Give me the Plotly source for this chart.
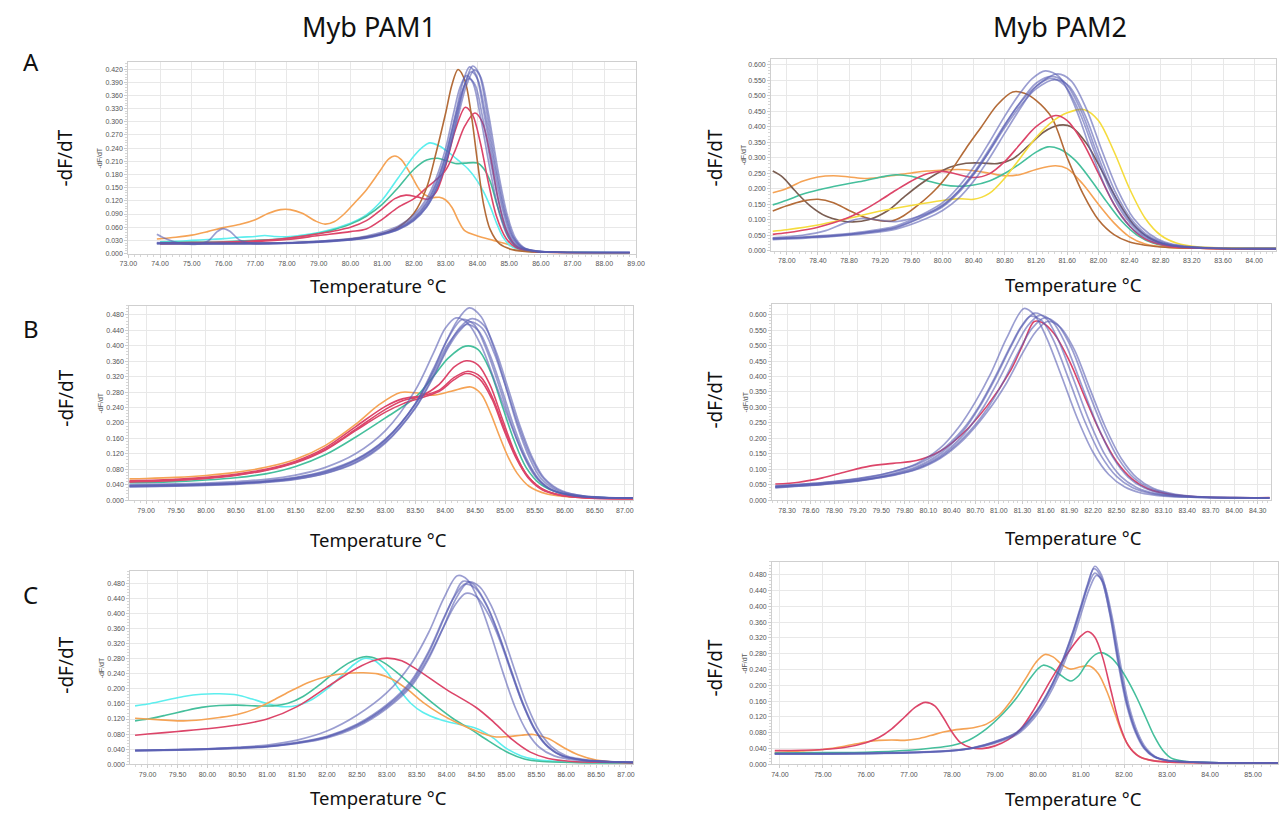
import plotly.graph_objects as go

# ---------------- DATA ----------------
# Panel A, Myb PAM1
A1_ORANGE = [(73.9,0.033),(74.5,0.037),(75.0,0.042),(75.5,0.050),(76.0,0.059),(76.5,0.066),(77.0,0.077),(77.4,0.091),(77.8,0.100),(78.1,0.100),(78.5,0.091),(78.9,0.074),(79.2,0.067),(79.5,0.073),(79.8,0.090),(80.1,0.113),(80.5,0.145),(80.9,0.185),(81.2,0.215),(81.4,0.222),(81.6,0.214),(81.9,0.180),(82.2,0.143),(82.5,0.128),(82.8,0.128),(83.0,0.122),(83.2,0.105),(83.4,0.075),(83.6,0.052),(84.0,0.040),(84.5,0.030),(85.0,0.020),(85.3,0.010),(85.6,0.004),(86.0,0.003),(88.8,0.002)]
A1_CYAN = [(74.0,0.027),(74.5,0.028),(75.0,0.030),(75.5,0.032),(76.0,0.034),(76.5,0.037),(77.0,0.039),(77.3,0.041),(77.6,0.039),(78.0,0.038),(78.5,0.042),(79.0,0.048),(79.5,0.057),(80.0,0.069),(80.5,0.088),(81.0,0.122),(81.5,0.172),(82.0,0.222),(82.3,0.244),(82.5,0.252),(82.8,0.245),(83.1,0.230),(83.4,0.212),(83.7,0.193),(84.0,0.165),(84.2,0.140),(84.4,0.108),(84.6,0.070),(84.8,0.038),(85.0,0.020),(85.3,0.009),(85.7,0.004),(86.5,0.003),(88.8,0.002)]
A1_TEAL = [(74.0,0.025),(75.0,0.026),(76.0,0.027),(77.0,0.030),(78.0,0.035),(79.0,0.046),(79.5,0.055),(80.0,0.067),(80.5,0.085),(81.0,0.112),(81.5,0.150),(82.0,0.192),(82.4,0.213),(82.75,0.217),(83.0,0.212),(83.3,0.205),(83.6,0.206),(84.0,0.206),(84.2,0.193),(84.4,0.165),(84.6,0.115),(84.8,0.070),(85.0,0.035),(85.3,0.013),(85.7,0.005),(86.5,0.003),(88.8,0.002)]
A1_RED_1 = [(74.0,0.024),(75.0,0.025),(76.0,0.026),(77.0,0.029),(78.0,0.035),(79.0,0.045),(80.0,0.060),(80.5,0.075),(81.0,0.102),(81.4,0.125),(81.75,0.133),(82.1,0.129),(82.45,0.124),(82.7,0.140),(83.0,0.200),(83.3,0.280),(83.62,0.333),(83.85,0.315),(84.1,0.250),(84.35,0.160),(84.6,0.085),(84.9,0.035),(85.2,0.014),(85.6,0.006),(86.2,0.003),(88.8,0.002)]
A1_RED_2 = [(74.0,0.022),(75.0,0.023),(76.0,0.024),(77.0,0.027),(78.0,0.032),(79.0,0.041),(80.0,0.050),(80.5,0.056),(81.0,0.078),(81.5,0.105),(82.0,0.125),(82.4,0.150),(82.7,0.168),(83.0,0.190),(83.3,0.235),(83.6,0.290),(83.92,0.320),(84.15,0.300),(84.4,0.225),(84.65,0.125),(84.9,0.055),(85.2,0.018),(85.6,0.006),(86.2,0.003),(88.8,0.002)]
A1_BROWN = [(74.0,0.023),(76.0,0.023),(78.0,0.024),(79.0,0.027),(80.0,0.033),(80.5,0.038),(81.0,0.045),(81.5,0.060),(82.0,0.092),(82.4,0.150),(82.7,0.230),(83.0,0.320),(83.2,0.385),(83.39,0.419),(83.6,0.395),(83.8,0.320),(84.0,0.210),(84.2,0.110),(84.4,0.055),(84.7,0.022),(85.1,0.009),(85.8,0.004),(88.8,0.002)]
A1_BLUE_1 = [(73.9,0.024),(75.0,0.023),(76.0,0.023),(77.0,0.023),(78.0,0.024),(79.0,0.027),(80.0,0.032),(80.5,0.037),(81.0,0.045),(81.5,0.057),(82.0,0.080),(82.4,0.114),(82.7,0.158),(83.0,0.222),(83.3,0.315),(83.55,0.392),(83.75,0.425),(83.95,0.408),(84.2,0.322),(84.5,0.198),(84.8,0.098),(85.05,0.042),(85.35,0.015),(85.8,0.006),(86.5,0.003),(88.8,0.002)]
A1_BLUE_2 = [(73.9,0.023),(75.0,0.022),(76.0,0.022),(77.0,0.022),(78.0,0.023),(79.0,0.026),(80.0,0.031),(80.5,0.035),(81.0,0.043),(81.5,0.054),(82.0,0.075),(82.4,0.106),(82.7,0.145),(83.0,0.205),(83.3,0.292),(83.6,0.385),(83.85,0.427),(84.05,0.410),(84.3,0.320),(84.6,0.190),(84.9,0.088),(85.15,0.036),(85.45,0.013),(85.9,0.005),(86.5,0.003),(88.8,0.002)]
A1_BLUE_3 = [(73.9,0.044),(74.2,0.033),(74.6,0.024),(75.1,0.021),(75.5,0.028),(75.8,0.050),(76.0,0.057),(76.2,0.051),(76.5,0.031),(76.9,0.023),(78.0,0.024),(79.0,0.028),(80.0,0.034),(80.5,0.040),(81.0,0.049),(81.5,0.062),(82.0,0.088),(82.4,0.125),(82.7,0.172),(83.0,0.240),(83.25,0.320),(83.45,0.378),(83.65,0.405),(83.85,0.390),(84.1,0.310),(84.4,0.190),(84.7,0.090),(84.95,0.040),(85.25,0.014),(85.7,0.006),(86.5,0.003),(88.8,0.002)]
A1_BLUE_4 = [(73.9,0.025),(75.0,0.024),(76.0,0.024),(77.0,0.024),(78.0,0.025),(79.0,0.028),(80.0,0.033),(80.5,0.038),(81.0,0.046),(81.5,0.059),(82.0,0.083),(82.4,0.118),(82.7,0.162),(83.0,0.225),(83.3,0.310),(83.52,0.370),(83.72,0.398),(83.92,0.385),(84.15,0.315),(84.45,0.195),(84.75,0.095),(85.0,0.042),(85.3,0.015),(85.75,0.006),(86.5,0.003),(88.8,0.002)]
A1_BLUE_5 = [(73.9,0.022),(75.0,0.022),(76.0,0.022),(77.0,0.023),(78.0,0.024),(79.0,0.026),(80.0,0.031),(80.5,0.036),(81.0,0.044),(81.5,0.056),(82.0,0.078),(82.4,0.110),(82.7,0.152),(83.0,0.214),(83.3,0.302),(83.58,0.380),(83.8,0.414),(84.0,0.398),(84.25,0.318),(84.55,0.196),(84.85,0.094),(85.1,0.040),(85.4,0.014),(85.85,0.005),(86.5,0.003),(88.8,0.002)]
A1_BLUE_6 = [(73.9,0.023),(75.0,0.023),(76.0,0.023),(77.0,0.023),(78.0,0.024),(79.0,0.027),(80.0,0.032),(80.5,0.036),(81.0,0.044),(81.5,0.055),(82.0,0.076),(82.4,0.106),(82.7,0.146),(83.0,0.205),(83.35,0.300),(83.65,0.382),(83.9,0.418),(84.1,0.402),(84.35,0.318),(84.65,0.188),(84.95,0.085),(85.2,0.035),(85.5,0.012),(85.95,0.005),(86.5,0.003),(88.8,0.002)]

# Panel A, Myb PAM2
A2_ORANGE = [(77.82,0.187),(78.0,0.201),(78.2,0.224),(78.4,0.238),(78.6,0.242),(78.8,0.238),(79.0,0.233),(79.2,0.237),(79.4,0.244),(79.6,0.251),(79.8,0.257),(80.0,0.260),(80.2,0.262),(80.4,0.258),(80.6,0.250),(80.8,0.242),(81.0,0.246),(81.2,0.262),(81.45,0.274),(81.6,0.265),(81.8,0.215),(82.0,0.150),(82.2,0.090),(82.4,0.045),(82.6,0.022),(82.9,0.011),(83.3,0.008),(84.28,0.006)]
A2_TEAL = [(77.82,0.148),(78.0,0.163),(78.2,0.182),(78.4,0.196),(78.6,0.207),(78.8,0.217),(79.0,0.226),(79.2,0.237),(79.4,0.245),(79.6,0.240),(79.8,0.226),(80.0,0.213),(80.2,0.208),(80.4,0.212),(80.6,0.225),(80.8,0.250),(81.0,0.282),(81.2,0.318),(81.35,0.335),(81.5,0.328),(81.7,0.292),(81.9,0.230),(82.1,0.160),(82.3,0.095),(82.5,0.050),(82.7,0.025),(83.0,0.012),(83.5,0.008),(84.28,0.007)]
A2_RED = [(77.82,0.053),(78.0,0.058),(78.2,0.066),(78.4,0.076),(78.6,0.090),(78.8,0.108),(79.0,0.133),(79.2,0.163),(79.4,0.195),(79.6,0.225),(79.8,0.248),(80.0,0.256),(80.2,0.246),(80.4,0.236),(80.6,0.248),(80.8,0.288),(81.0,0.345),(81.2,0.400),(81.45,0.436),(81.6,0.420),(81.8,0.350),(82.0,0.250),(82.2,0.150),(82.4,0.080),(82.6,0.038),(82.9,0.015),(83.3,0.008),(84.28,0.006)]
A2_DARK = [(77.82,0.257),(77.95,0.237),(78.1,0.195),(78.3,0.145),(78.5,0.112),(78.7,0.097),(78.85,0.093),(79.05,0.100),(79.3,0.130),(79.5,0.172),(79.7,0.212),(79.9,0.245),(80.1,0.270),(80.3,0.282),(80.5,0.283),(80.7,0.281),(80.9,0.296),(81.1,0.338),(81.3,0.383),(81.5,0.405),(81.65,0.400),(81.85,0.345),(82.05,0.255),(82.25,0.160),(82.45,0.085),(82.65,0.042),(82.9,0.018),(83.3,0.009),(84.28,0.007)]
A2_BROWN = [(77.82,0.128),(78.0,0.145),(78.2,0.160),(78.4,0.166),(78.6,0.155),(78.8,0.130),(79.0,0.108),(79.2,0.097),(79.35,0.096),(79.5,0.113),(79.7,0.150),(79.9,0.195),(80.1,0.255),(80.3,0.330),(80.5,0.400),(80.7,0.470),(80.9,0.512),(81.05,0.508),(81.2,0.485),(81.4,0.430),(81.6,0.300),(81.8,0.185),(82.0,0.100),(82.2,0.052),(82.4,0.028),(82.6,0.018),(82.9,0.011),(83.3,0.008),(84.28,0.007)]
A2_YELLOW = [(77.82,0.063),(78.0,0.068),(78.4,0.083),(78.8,0.105),(79.2,0.128),(79.6,0.146),(80.0,0.162),(80.2,0.168),(80.4,0.166),(80.6,0.185),(80.8,0.235),(81.0,0.300),(81.2,0.365),(81.4,0.415),(81.6,0.445),(81.82,0.455),(82.0,0.420),(82.2,0.320),(82.4,0.200),(82.6,0.105),(82.8,0.050),(83.0,0.025),(83.3,0.012),(83.8,0.009),(84.28,0.008)]
A2_BLUE_1 = [(77.82,0.040),(78.2,0.044),(78.6,0.051),(79.0,0.062),(79.4,0.080),(79.8,0.125),(80.0,0.155),(80.2,0.205),(80.4,0.270),(80.6,0.350),(80.8,0.435),(81.0,0.510),(81.15,0.555),(81.32,0.580),(81.5,0.560),(81.7,0.465),(81.9,0.325),(82.1,0.200),(82.3,0.110),(82.5,0.058),(82.7,0.030),(82.95,0.016),(83.4,0.009),(84.28,0.007)]
A2_BLUE_2 = [(77.82,0.036),(78.2,0.040),(78.6,0.046),(79.0,0.055),(79.4,0.070),(79.8,0.105),(80.0,0.130),(80.2,0.168),(80.4,0.225),(80.6,0.298),(80.8,0.380),(81.0,0.460),(81.2,0.530),(81.47,0.570),(81.65,0.548),(81.85,0.455),(82.05,0.320),(82.25,0.195),(82.45,0.105),(82.65,0.055),(82.85,0.028),(83.1,0.015),(83.5,0.009),(84.28,0.007)]
A2_BLUE_3 = [(77.82,0.038),(78.2,0.042),(78.6,0.048),(79.0,0.058),(79.4,0.074),(79.8,0.115),(80.0,0.142),(80.2,0.186),(80.4,0.246),(80.6,0.322),(80.8,0.405),(81.0,0.480),(81.2,0.540),(81.4,0.562),(81.58,0.540),(81.78,0.450),(81.98,0.315),(82.18,0.192),(82.38,0.104),(82.58,0.054),(82.78,0.028),(83.0,0.015),(83.4,0.009),(84.28,0.007)]
A2_BLUE_4 = [(77.82,0.042),(78.2,0.050),(78.5,0.065),(78.75,0.090),(78.95,0.104),(79.15,0.100),(79.4,0.094),(79.8,0.120),(80.0,0.148),(80.2,0.192),(80.4,0.252),(80.6,0.328),(80.8,0.408),(81.0,0.478),(81.2,0.530),(81.38,0.556),(81.56,0.535),(81.76,0.445),(81.96,0.312),(82.16,0.190),(82.36,0.103),(82.56,0.053),(82.76,0.028),(83.0,0.015),(83.4,0.009),(84.28,0.007)]
A2_BLUE_5 = [(77.82,0.039),(78.2,0.043),(78.6,0.049),(79.0,0.059),(79.4,0.076),(79.8,0.118),(80.0,0.145),(80.2,0.190),(80.4,0.248),(80.6,0.320),(80.8,0.398),(81.0,0.468),(81.2,0.522),(81.44,0.552),(81.62,0.532),(81.82,0.442),(82.02,0.310),(82.22,0.188),(82.42,0.102),(82.62,0.052),(82.82,0.027),(83.05,0.015),(83.4,0.009),(84.28,0.007)]

# Panel B, Myb PAM1
B1_ORANGE = [(78.72,0.055),(79.0,0.056),(79.5,0.059),(80.0,0.064),(80.5,0.072),(81.0,0.085),(81.5,0.106),(82.0,0.142),(82.5,0.196),(82.9,0.248),(83.25,0.279),(83.5,0.278),(83.8,0.272),(84.1,0.282),(84.43,0.293),(84.6,0.275),(84.75,0.228),(84.9,0.168),(85.05,0.112),(85.2,0.070),(85.4,0.036),(85.7,0.016),(86.1,0.008),(86.7,0.005),(87.14,0.004)]
B1_TEAL = [(78.72,0.045),(79.5,0.048),(80.0,0.052),(80.5,0.058),(81.0,0.068),(81.5,0.087),(82.0,0.118),(82.5,0.163),(83.0,0.213),(83.5,0.266),(83.8,0.320),(84.05,0.368),(84.34,0.399),(84.55,0.390),(84.75,0.335),(84.95,0.245),(85.15,0.155),(85.35,0.085),(85.6,0.040),(85.9,0.019),(86.3,0.009),(87.14,0.005)]
B1_RED_1 = [(78.72,0.048),(79.5,0.052),(80.0,0.057),(80.5,0.065),(81.0,0.078),(81.5,0.098),(82.0,0.132),(82.5,0.183),(83.0,0.235),(83.3,0.258),(83.6,0.270),(83.9,0.300),(84.15,0.345),(84.35,0.361),(84.55,0.350),(84.75,0.298),(84.95,0.212),(85.15,0.128),(85.35,0.068),(85.6,0.031),(85.9,0.014),(86.3,0.007),(87.14,0.004)]
B1_RED_2 = [(78.72,0.050),(79.5,0.054),(80.0,0.059),(80.5,0.067),(81.0,0.080),(81.5,0.101),(82.0,0.136),(82.5,0.190),(83.0,0.243),(83.3,0.263),(83.6,0.270),(83.9,0.285),(84.15,0.318),(84.38,0.334),(84.6,0.318),(84.8,0.262),(85.0,0.180),(85.2,0.108),(85.4,0.058),(85.65,0.026),(85.95,0.012),(86.4,0.006),(87.14,0.004)]
B1_RED_3 = [(78.72,0.047),(79.5,0.051),(80.0,0.056),(80.5,0.064),(81.0,0.077),(81.5,0.097),(82.0,0.130),(82.5,0.180),(83.0,0.228),(83.3,0.250),(83.6,0.265),(83.9,0.282),(84.15,0.312),(84.35,0.328),(84.57,0.314),(84.78,0.262),(84.98,0.182),(85.18,0.110),(85.38,0.059),(85.62,0.027),(85.92,0.013),(86.35,0.006),(87.14,0.004)]
B1_BLUE_1 = [(78.72,0.038),(79.5,0.040),(80.0,0.042),(80.5,0.045),(81.0,0.050),(81.5,0.059),(82.0,0.076),(82.5,0.105),(83.0,0.158),(83.5,0.250),(83.8,0.335),(84.0,0.405),(84.2,0.465),(84.4,0.498),(84.6,0.475),(84.8,0.400),(85.0,0.300),(85.2,0.195),(85.4,0.112),(85.6,0.056),(85.9,0.022),(86.3,0.010),(87.14,0.005)]
B1_BLUE_2 = [(78.72,0.040),(79.5,0.042),(80.0,0.044),(80.5,0.048),(81.0,0.054),(81.5,0.065),(82.0,0.085),(82.5,0.120),(83.0,0.180),(83.5,0.285),(83.8,0.380),(84.0,0.445),(84.18,0.472),(84.38,0.458),(84.6,0.400),(84.8,0.320),(85.0,0.235),(85.2,0.155),(85.4,0.090),(85.6,0.046),(85.9,0.019),(86.3,0.009),(87.14,0.005)]
B1_BLUE_3 = [(78.72,0.036),(79.5,0.038),(80.0,0.040),(80.5,0.043),(81.0,0.048),(81.5,0.057),(82.0,0.073),(82.5,0.102),(83.0,0.155),(83.5,0.250),(83.8,0.340),(84.05,0.420),(84.28,0.468),(84.48,0.455),(84.7,0.385),(84.9,0.295),(85.1,0.200),(85.3,0.118),(85.5,0.062),(85.75,0.028),(86.1,0.012),(86.6,0.006),(87.14,0.005)]
B1_BLUE_4 = [(78.72,0.034),(79.5,0.036),(80.0,0.038),(80.5,0.041),(81.0,0.046),(81.5,0.054),(82.0,0.069),(82.5,0.096),(83.0,0.148),(83.5,0.238),(83.8,0.318),(84.05,0.395),(84.25,0.440),(84.42,0.462),(84.62,0.445),(84.82,0.380),(85.02,0.290),(85.22,0.195),(85.42,0.115),(85.62,0.060),(85.9,0.025),(86.3,0.011),(87.14,0.005)]
B1_BLUE_5 = [(78.72,0.037),(79.5,0.039),(80.0,0.041),(80.5,0.044),(81.0,0.049),(81.5,0.058),(82.0,0.074),(82.5,0.104),(83.0,0.157),(83.5,0.248),(83.8,0.330),(84.05,0.405),(84.35,0.455),(84.55,0.440),(84.75,0.375),(84.95,0.285),(85.15,0.190),(85.35,0.110),(85.55,0.057),(85.8,0.025),(86.2,0.011),(86.7,0.006),(87.14,0.005)]
B1_BLUE_6 = [(78.72,0.035),(79.5,0.037),(80.0,0.039),(80.5,0.042),(81.0,0.047),(81.5,0.055),(82.0,0.070),(82.5,0.098),(83.0,0.150),(83.5,0.240),(83.8,0.322),(84.05,0.400),(84.25,0.448),(84.45,0.470),(84.65,0.452),(84.85,0.385),(85.05,0.290),(85.25,0.192),(85.45,0.112),(85.65,0.058),(85.95,0.024),(86.35,0.010),(87.14,0.005)]

# Panel B, Myb PAM2
B2_RED = [(78.15,0.052),(78.45,0.058),(78.75,0.072),(79.05,0.092),(79.35,0.110),(79.65,0.119),(79.95,0.128),(80.25,0.158),(80.55,0.218),(80.85,0.305),(81.15,0.420),(81.3,0.500),(81.45,0.578),(81.55,0.575),(81.7,0.540),(81.9,0.450),(82.1,0.330),(82.3,0.215),(82.5,0.125),(82.7,0.068),(82.9,0.037),(83.2,0.018),(83.6,0.010),(84.45,0.008)]
B2_BLUE_1 = [(78.15,0.045),(78.45,0.050),(78.75,0.056),(79.05,0.064),(79.35,0.075),(79.65,0.092),(79.95,0.118),(80.25,0.168),(80.5,0.240),(80.7,0.318),(80.9,0.412),(81.1,0.525),(81.32,0.620),(81.45,0.600),(81.6,0.530),(81.8,0.400),(82.0,0.265),(82.2,0.155),(82.4,0.083),(82.6,0.043),(82.8,0.024),(83.1,0.013),(83.5,0.009),(84.45,0.007)]
B2_BLUE_2 = [(78.15,0.044),(78.45,0.049),(78.75,0.054),(79.05,0.061),(79.35,0.071),(79.65,0.086),(79.95,0.108),(80.25,0.150),(80.55,0.225),(80.75,0.300),(80.95,0.392),(81.15,0.495),(81.3,0.565),(81.45,0.605),(81.6,0.588),(81.75,0.522),(81.95,0.392),(82.15,0.258),(82.35,0.148),(82.55,0.078),(82.75,0.042),(83.0,0.021),(83.4,0.011),(84.0,0.008),(84.45,0.007)]
B2_BLUE_3 = [(78.15,0.042),(78.45,0.047),(78.75,0.052),(79.05,0.059),(79.35,0.069),(79.65,0.083),(79.95,0.104),(80.25,0.143),(80.55,0.212),(80.8,0.300),(81.0,0.390),(81.2,0.490),(81.37,0.565),(81.52,0.598),(81.68,0.578),(81.85,0.505),(82.05,0.375),(82.25,0.245),(82.45,0.140),(82.65,0.074),(82.85,0.040),(83.1,0.020),(83.5,0.011),(84.0,0.008),(84.45,0.007)]
B2_BLUE_4 = [(78.15,0.041),(78.45,0.046),(78.75,0.051),(79.05,0.058),(79.35,0.068),(79.65,0.081),(79.95,0.101),(80.25,0.138),(80.55,0.202),(80.85,0.295),(81.05,0.380),(81.25,0.480),(81.42,0.555),(81.58,0.590),(81.74,0.570),(81.92,0.495),(82.12,0.365),(82.32,0.238),(82.52,0.136),(82.72,0.072),(82.92,0.039),(83.2,0.019),(83.6,0.010),(84.45,0.007)]
B2_BLUE_5 = [(78.15,0.046),(78.45,0.051),(78.75,0.057),(79.05,0.065),(79.35,0.076),(79.65,0.092),(79.95,0.115),(80.25,0.158),(80.55,0.232),(80.75,0.305),(80.95,0.398),(81.15,0.500),(81.28,0.560),(81.4,0.595),(81.55,0.580),(81.7,0.515),(81.9,0.385),(82.1,0.252),(82.3,0.145),(82.5,0.077),(82.7,0.041),(82.95,0.021),(83.35,0.011),(84.0,0.008),(84.45,0.007)]
B2_BLUE_6 = [(78.15,0.040),(78.45,0.045),(78.75,0.050),(79.05,0.057),(79.35,0.067),(79.65,0.080),(79.95,0.099),(80.25,0.135),(80.55,0.196),(80.85,0.285),(81.1,0.380),(81.3,0.475),(81.47,0.545),(81.62,0.578),(81.78,0.560),(81.96,0.488),(82.16,0.360),(82.36,0.235),(82.56,0.135),(82.76,0.072),(82.96,0.039),(83.25,0.019),(83.65,0.010),(84.45,0.007)]

# Panel C, Myb PAM1
C1_CYAN = [(78.79,0.155),(79.0,0.160),(79.3,0.170),(79.6,0.180),(79.9,0.186),(80.2,0.187),(80.5,0.184),(80.75,0.173),(81.0,0.161),(81.25,0.153),(81.5,0.156),(81.75,0.172),(82.0,0.200),(82.25,0.236),(82.45,0.265),(82.62,0.281),(82.8,0.275),(83.0,0.245),(83.2,0.200),(83.4,0.162),(83.6,0.138),(83.9,0.118),(84.2,0.106),(84.5,0.095),(84.75,0.073),(85.0,0.042),(85.25,0.022),(85.5,0.012),(86.0,0.006),(87.12,0.004)]
C1_TEAL = [(78.79,0.115),(79.0,0.120),(79.3,0.130),(79.6,0.141),(79.9,0.151),(80.2,0.156),(80.5,0.157),(80.8,0.155),(81.1,0.155),(81.35,0.162),(81.6,0.180),(81.85,0.208),(82.1,0.240),(82.35,0.268),(82.6,0.285),(82.75,0.284),(82.95,0.270),(83.2,0.240),(83.5,0.198),(83.8,0.158),(84.1,0.122),(84.4,0.093),(84.7,0.062),(85.0,0.033),(85.3,0.014),(85.6,0.007),(86.2,0.004),(87.12,0.003)]
C1_ORANGE = [(78.79,0.122),(79.0,0.120),(79.3,0.117),(79.6,0.115),(79.9,0.118),(80.2,0.124),(80.5,0.132),(80.8,0.147),(81.1,0.170),(81.4,0.195),(81.7,0.218),(82.0,0.233),(82.3,0.241),(82.6,0.243),(82.85,0.240),(83.1,0.225),(83.35,0.198),(83.6,0.165),(83.9,0.133),(84.2,0.108),(84.5,0.088),(84.8,0.073),(85.0,0.073),(85.25,0.077),(85.45,0.079),(85.7,0.068),(85.95,0.045),(86.2,0.025),(86.5,0.011),(86.9,0.005),(87.12,0.004)]
C1_RED = [(78.79,0.077),(79.0,0.080),(79.5,0.087),(80.0,0.094),(80.5,0.104),(81.0,0.120),(81.5,0.153),(82.0,0.205),(82.5,0.255),(82.8,0.276),(83.0,0.282),(83.25,0.275),(83.5,0.252),(84.0,0.198),(84.5,0.150),(84.8,0.110),(85.1,0.065),(85.4,0.032),(85.7,0.015),(86.1,0.007),(86.6,0.005),(87.12,0.004)]
C1_BLUE_1 = [(78.79,0.037),(79.5,0.039),(80.0,0.041),(80.5,0.045),(81.0,0.051),(81.5,0.064),(82.0,0.088),(82.5,0.130),(83.0,0.190),(83.4,0.265),(83.7,0.350),(83.95,0.440),(84.18,0.501),(84.35,0.490),(84.55,0.430),(84.75,0.340),(84.95,0.240),(85.15,0.150),(85.35,0.085),(85.55,0.045),(85.8,0.022),(86.2,0.010),(86.7,0.006),(87.12,0.005)]
C1_BLUE_2 = [(78.79,0.036),(79.5,0.038),(80.0,0.040),(80.5,0.043),(81.0,0.047),(81.5,0.057),(82.0,0.073),(82.5,0.104),(83.0,0.155),(83.4,0.215),(83.7,0.295),(83.95,0.385),(84.12,0.445),(84.27,0.486),(84.45,0.478),(84.65,0.430),(84.85,0.355),(85.05,0.262),(85.25,0.170),(85.45,0.098),(85.65,0.053),(85.9,0.024),(86.3,0.010),(86.8,0.006),(87.12,0.005)]
C1_BLUE_3 = [(78.79,0.035),(79.5,0.037),(80.0,0.039),(80.5,0.042),(81.0,0.046),(81.5,0.055),(82.0,0.070),(82.5,0.099),(83.0,0.148),(83.4,0.205),(83.7,0.280),(83.95,0.365),(84.15,0.438),(84.36,0.484),(84.55,0.472),(84.75,0.420),(84.95,0.340),(85.15,0.245),(85.35,0.155),(85.55,0.088),(85.75,0.047),(86.0,0.022),(86.4,0.010),(86.9,0.006),(87.12,0.005)]
C1_BLUE_4 = [(78.79,0.036),(79.5,0.038),(80.0,0.040),(80.5,0.043),(81.0,0.047),(81.5,0.056),(82.0,0.072),(82.5,0.102),(83.0,0.152),(83.4,0.210),(83.7,0.285),(83.95,0.365),(84.15,0.425),(84.32,0.454),(84.5,0.445),(84.7,0.398),(84.9,0.325),(85.1,0.235),(85.3,0.150),(85.5,0.085),(85.7,0.045),(85.95,0.021),(86.35,0.010),(86.85,0.006),(87.12,0.005)]
C1_BLUE_5 = [(78.79,0.037),(79.5,0.039),(80.0,0.041),(80.5,0.044),(81.0,0.048),(81.5,0.058),(82.0,0.074),(82.5,0.106),(83.0,0.158),(83.4,0.220),(83.7,0.300),(83.95,0.388),(84.13,0.445),(84.3,0.478),(84.48,0.468),(84.68,0.418),(84.88,0.340),(85.08,0.250),(85.28,0.162),(85.48,0.093),(85.68,0.050),(85.93,0.023),(86.33,0.010),(86.83,0.006),(87.12,0.005)]

# Panel C, Myb PAM2
C2_RED = [(73.88,0.035),(74.5,0.036),(75.0,0.038),(75.5,0.043),(76.0,0.055),(76.3,0.068),(76.6,0.090),(76.9,0.120),(77.15,0.145),(77.38,0.157),(77.6,0.148),(77.8,0.118),(78.0,0.082),(78.2,0.055),(78.45,0.042),(78.7,0.040),(79.0,0.047),(79.3,0.062),(79.6,0.090),(79.9,0.138),(80.2,0.195),(80.5,0.250),(80.8,0.298),(81.0,0.325),(81.16,0.336),(81.32,0.322),(81.5,0.272),(81.7,0.185),(81.9,0.100),(82.1,0.048),(82.35,0.020),(82.7,0.009),(83.3,0.005),(85.58,0.004)]
C2_ORANGE = [(73.88,0.030),(74.5,0.034),(75.0,0.038),(75.5,0.046),(76.0,0.057),(76.3,0.061),(76.6,0.062),(76.9,0.061),(77.2,0.065),(77.5,0.073),(77.8,0.082),(78.1,0.088),(78.5,0.093),(78.8,0.102),(79.1,0.125),(79.4,0.165),(79.7,0.215),(79.95,0.258),(80.16,0.278),(80.35,0.272),(80.55,0.253),(80.76,0.241),(81.0,0.247),(81.2,0.249),(81.4,0.230),(81.6,0.185),(81.8,0.125),(82.0,0.068),(82.2,0.034),(82.45,0.015),(82.9,0.007),(83.5,0.005),(85.58,0.004)]
C2_TEAL = [(73.88,0.029),(75.0,0.030),(76.0,0.031),(77.0,0.036),(77.5,0.041),(78.0,0.048),(78.4,0.062),(78.8,0.090),(79.2,0.130),(79.5,0.168),(79.8,0.215),(80.0,0.242),(80.12,0.251),(80.3,0.245),(80.5,0.228),(80.76,0.211),(80.95,0.225),(81.15,0.258),(81.35,0.279),(81.5,0.282),(81.7,0.270),(81.9,0.245),(82.1,0.210),(82.3,0.168),(82.5,0.120),(82.7,0.072),(82.9,0.036),(83.1,0.016),(83.4,0.008),(84.0,0.005),(85.58,0.004)]
C2_BLUE_1 = [(73.88,0.027),(75.0,0.027),(76.0,0.028),(77.0,0.030),(78.0,0.035),(78.5,0.042),(79.0,0.056),(79.5,0.078),(79.9,0.122),(80.2,0.172),(80.5,0.238),(80.8,0.325),(81.0,0.395),(81.16,0.455),(81.32,0.501),(81.48,0.478),(81.68,0.385),(81.88,0.258),(82.08,0.150),(82.28,0.082),(82.48,0.041),(82.7,0.020),(83.0,0.010),(83.6,0.006),(84.5,0.004),(85.58,0.004)]
C2_BLUE_2 = [(73.88,0.028),(75.0,0.028),(76.0,0.029),(77.0,0.031),(78.0,0.036),(78.5,0.043),(79.0,0.058),(79.5,0.081),(79.9,0.126),(80.2,0.176),(80.5,0.243),(80.8,0.330),(81.0,0.398),(81.16,0.450),(81.32,0.484),(81.48,0.465),(81.68,0.378),(81.88,0.255),(82.08,0.150),(82.28,0.082),(82.48,0.041),(82.7,0.020),(83.0,0.010),(83.6,0.006),(84.5,0.004),(85.58,0.004)]
C2_BLUE_3 = [(73.88,0.026),(75.0,0.026),(76.0,0.027),(77.0,0.029),(78.0,0.034),(78.5,0.041),(79.0,0.054),(79.5,0.075),(79.9,0.116),(80.2,0.164),(80.5,0.228),(80.8,0.312),(81.0,0.380),(81.18,0.440),(81.36,0.478),(81.52,0.460),(81.72,0.375),(81.92,0.252),(82.12,0.146),(82.32,0.080),(82.52,0.040),(82.74,0.019),(83.05,0.010),(83.6,0.006),(84.5,0.004),(85.58,0.004)]
C2_BLUE_4 = [(73.88,0.027),(75.0,0.027),(76.0,0.028),(77.0,0.030),(78.0,0.035),(78.5,0.042),(79.0,0.057),(79.5,0.080),(79.9,0.125),(80.2,0.176),(80.5,0.244),(80.8,0.332),(81.0,0.402),(81.15,0.455),(81.3,0.495),(81.46,0.475),(81.66,0.385),(81.86,0.258),(82.06,0.150),(82.26,0.082),(82.46,0.041),(82.68,0.020),(83.0,0.010),(83.6,0.006),(84.5,0.004),(85.58,0.004)]

# ---------------- STYLE ----------------
BLUE = "rgba(88,93,178,0.60)"
ORANGE = "#f5a355"
CYAN = "#5deeee"
TEAL = "#45bf9c"
RED = "#dc4569"
BROWN = "#b36b38"
DARK = "#7b5e52"
YELLOW = "#f5dc3e"

W, H = 1287, 813
def px(x): return x / W
def py(y): return 1 - y / H

# panel: axis suffix, x range, tick0, dtick, minor dtick, y range, y dtick, y minor, pixel box (x0, x1, ytop, ybottom)
PANELS = {
    "A1": ("",  [73.0, 89.0], 73.0, 1.0, 0.2, [0, 0.436], 0.03, 0.006, (121, 636, 62.3, 254.5)),
    "A2": ("2", [77.8, 84.28], 78.0, 0.4, 0.08, [0, 0.619], 0.05, 0.01, (773, 1285, 59, 251.7)),
    "B1": ("3", [78.72, 87.14], 79.0, 0.5, 0.1, [0, 0.504], 0.04, 0.008, (122, 633, 306.7, 502)),
    "B2": ("4", [78.11, 84.47], 78.3, 0.3, 0.06, [0, 0.635], 0.05, 0.01, (774, 1280, 305, 502)),
    "C1": ("5", [78.71, 87.12], 79.0, 0.5, 0.1, [0, 0.513], 0.04, 0.008, (123, 633, 573.3, 767)),
    "C2": ("6", [73.82, 85.58], 74.0, 1.0, 0.2, [0, 0.512], 0.04, 0.008, (774, 1287, 564, 767.3)),
}

CURVES = {
    "A1": [(A1_ORANGE, ORANGE), (A1_CYAN, CYAN), (A1_TEAL, TEAL), (A1_RED_1, RED), (A1_RED_2, RED), (A1_BROWN, BROWN),
           (A1_BLUE_1, BLUE), (A1_BLUE_2, BLUE), (A1_BLUE_3, BLUE), (A1_BLUE_4, BLUE), (A1_BLUE_5, BLUE), (A1_BLUE_6, BLUE)],
    "A2": [(A2_ORANGE, ORANGE), (A2_TEAL, TEAL), (A2_DARK, DARK), (A2_BROWN, BROWN), (A2_YELLOW, YELLOW), (A2_RED, RED),
           (A2_BLUE_1, BLUE), (A2_BLUE_2, BLUE), (A2_BLUE_3, BLUE), (A2_BLUE_4, BLUE), (A2_BLUE_5, BLUE)],
    "B1": [(B1_ORANGE, ORANGE), (B1_TEAL, TEAL), (B1_RED_1, RED), (B1_RED_2, RED), (B1_RED_3, RED),
           (B1_BLUE_1, BLUE), (B1_BLUE_2, BLUE), (B1_BLUE_3, BLUE), (B1_BLUE_4, BLUE), (B1_BLUE_5, BLUE), (B1_BLUE_6, BLUE)],
    "B2": [(B2_RED, RED), (B2_BLUE_1, BLUE), (B2_BLUE_2, BLUE), (B2_BLUE_3, BLUE), (B2_BLUE_4, BLUE), (B2_BLUE_5, BLUE), (B2_BLUE_6, BLUE)],
    "C1": [(C1_CYAN, CYAN), (C1_TEAL, TEAL), (C1_ORANGE, ORANGE), (C1_RED, RED),
           (C1_BLUE_1, BLUE), (C1_BLUE_2, BLUE), (C1_BLUE_3, BLUE), (C1_BLUE_4, BLUE), (C1_BLUE_5, BLUE)],
    "C2": [(C2_ORANGE, ORANGE), (C2_TEAL, TEAL), (C2_RED, RED),
           (C2_BLUE_1, BLUE), (C2_BLUE_2, BLUE), (C2_BLUE_3, BLUE), (C2_BLUE_4, BLUE)],
}

fig = go.Figure()
layout = dict(width=W, height=H, margin=dict(l=0, r=0, t=0, b=0), paper_bgcolor="white",
              plot_bgcolor="white", showlegend=False)

TICKFONT = dict(family="Liberation Sans, Arial, sans-serif", size=7, color="#555555")
for key, (sfx, xr, t0, dt, mdt, yr, ydt, ymdt, box) in PANELS.items():
    x0, x1, yt, yb = box
    layout["xaxis" + sfx] = dict(
        domain=[px(x0), px(x1)], range=xr, tick0=t0, dtick=dt, tickformat=".2f",
        showgrid=True, gridcolor="#e8e8e8", gridwidth=1, zeroline=False,
        showline=True, linecolor="#cfcfcf", linewidth=1, mirror=True,
        ticks="outside", ticklen=3, tickcolor="#cccccc", tickfont=TICKFONT,
        minor=dict(ticks="outside", ticklen=2, tickcolor="#d6d6d6", dtick=mdt, tick0=t0, showgrid=False),
        anchor="y" + sfx, fixedrange=True)
    layout["yaxis" + sfx] = dict(
        domain=[py(yb), py(yt)], range=yr, tick0=0, dtick=ydt, tickformat=".3f",
        showgrid=True, gridcolor="#e8e8e8", gridwidth=1, zeroline=False,
        showline=True, linecolor="#cfcfcf", linewidth=1, mirror=True,
        ticks="outside", ticklen=3, tickcolor="#cccccc", tickfont=TICKFONT,
        minor=dict(ticks="outside", ticklen=2, tickcolor="#d6d6d6", dtick=ymdt, tick0=0, showgrid=False),
        anchor="x" + sfx, fixedrange=True)
    for pts, col in CURVES[key]:
        xs = [p[0] for p in pts]
        ys = [p[1] for p in pts]
        fig.add_trace(go.Scatter(x=xs, y=ys, mode="lines", xaxis="x" + sfx, yaxis="y" + sfx,
                                 line=dict(color=col, width=1.7 if col == BLUE else 1.6, shape="spline", smoothing=0.9),
                                 hoverinfo="skip"))

ann = []
MAIN = "Noto Sans, Open Sans, sans-serif"
def A(x, y, text, size, angle=0, color="#111111", family=MAIN):
    ann.append(dict(x=px(x), y=py(y), xref="paper", yref="paper", text=text, showarrow=False,
                    font=dict(family=family, size=size, color=color), textangle=angle,
                    xanchor="center", yanchor="middle"))

A(365, 27, "Myb PAM1", 27)
A(1066, 27, "Myb PAM2", 27)
A(22, 62, "A", 24)
A(22, 330, "B", 24)
A(22, 597, "C", 24)
for (x, y) in [(57, 159), (716, 158), (57, 400), (716, 401), (57, 668), (716, 670)]:
    A(x, y, "-dF/dT", 19, angle=-90)
for (x, y) in [(375, 287), (1080, 286), (375, 541), (1080, 539), (375, 800), (1080, 801)]:
    A(x, y, "Temperature °C", 18.5)
for key, (sfx, xr, t0, dt, mdt, yr, ydt, ymdt, box) in PANELS.items():
    x0, x1, yt, yb = box
    A(x0 - 29 if x0 < 500 else x0 - 28, (yt + yb) / 2, "-dF/dT", 7, angle=-90, color="#555555",
      family="Liberation Sans, Arial, sans-serif")

layout["annotations"] = ann
fig.update_layout(**layout)
fig.write_html("out.html", config={"displayModeBar": False},
               post_script="document.body.style.margin='0';document.body.style.overflow='hidden';")
